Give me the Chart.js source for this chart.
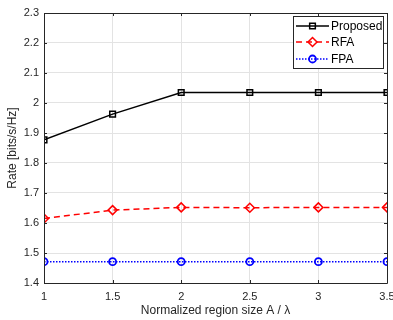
<!DOCTYPE html>
<html>
<head>
<meta charset="utf-8">
<script src="https://cdn.jsdelivr.net/npm/chart.js@4/dist/chart.umd.min.js"></script>
<style>
html,body{margin:0;padding:0;background:#fff;}
#wrap{width:393px;height:320px;}
</style>
</head>
<body>
<div id="wrap"><canvas id="c" width="393" height="320"></canvas></div>
<script>
const xValues = [1, 1.5, 2, 2.5, 3, 3.5];
const proposed = [1.877, 1.963, 2.035, 2.035, 2.035, 2.035];
const rfa = [1.615, 1.643, 1.652, 1.651, 1.652, 1.652];
const fpa = [1.471, 1.471, 1.471, 1.471, 1.471, 1.471];
const seriesNames = ['Proposed', 'RFA', 'FPA'];
const xTicks = [1, 1.5, 2, 2.5, 3, 3.5];
const yTicks = [1.4, 1.5, 1.6, 1.7, 1.8, 1.9, 2, 2.1, 2.2, 2.3];

const FONT = 'Liberation Sans, Arial, Helvetica, sans-serif';
const toPts = arr => arr.map((v, i) => ({x: xValues[i], y: v}));

const frame = {
  id: 'frame',
  afterDatasetsDraw(chart) {
    const ctx = chart.ctx, a = chart.chartArea;
    const xs = chart.scales.x, ys = chart.scales.y;
    ctx.save();
    ctx.strokeStyle = '#262626';
    ctx.lineWidth = 1;
    ctx.beginPath();
    ctx.rect(Math.round(a.left) + 0.5, Math.round(a.top) + 0.5, Math.round(a.right - a.left), Math.round(a.bottom - a.top));
    ctx.stroke();
    const tl = 3;
    ctx.beginPath();
    xTicks.forEach(v => {
      const px = Math.round(xs.getPixelForValue(v)) + 0.5;
      ctx.moveTo(px, a.bottom); ctx.lineTo(px, a.bottom - tl);
      ctx.moveTo(px, a.top); ctx.lineTo(px, a.top + tl);
    });
    yTicks.forEach(v => {
      const py = Math.round(ys.getPixelForValue(v)) + 0.5;
      ctx.moveTo(a.left, py); ctx.lineTo(a.left + tl, py);
      ctx.moveTo(a.right, py); ctx.lineTo(a.right - tl, py);
    });
    ctx.stroke();

    // legend
    const lx = 293, ly = 16, lw = 90, lh = 52;
    ctx.fillStyle = '#fff';
    ctx.fillRect(lx, ly, lw, lh);
    ctx.strokeStyle = '#262626';
    ctx.lineWidth = 1;
    ctx.strokeRect(lx + 0.5, ly + 0.5, lw, lh);
    const rows = [26, 42, 59];
    chart.data.datasets.forEach((ds, i) => {
      const y = rows[i];
      ctx.save();
      ctx.strokeStyle = ds.borderColor;
      ctx.lineWidth = ds.borderWidth;
      ctx.setLineDash(ds.borderDash || []);
      ctx.beginPath();
      ctx.moveTo(296, y); ctx.lineTo(329, y);
      ctx.stroke();
      ctx.setLineDash([]);
      ctx.lineWidth = ds.pointBorderWidth;
      ctx.strokeStyle = ds.pointBorderColor;
      ctx.fillStyle = 'rgba(0,0,0,0)';
      Chart.helpers.drawPoint(ctx, {pointStyle: ds.pointStyle, radius: ds.pointRadius, rotation: 0, borderWidth: ds.pointBorderWidth}, 312.5, y);
      ctx.restore();
      ctx.fillStyle = '#000';
      ctx.font = '12px ' + FONT;
      ctx.textBaseline = 'middle';
      ctx.textAlign = 'left';
      ctx.fillText(ds.label, 331, y + 0.5);
    });
    ctx.restore();
  }
};

new Chart(document.getElementById('c'), {
  type: 'line',
  data: {
    datasets: [
      {label: seriesNames[0], data: toPts(proposed), borderColor: '#000', backgroundColor: 'rgba(0,0,0,0)',
       borderWidth: 1.5, pointStyle: 'rect', pointRadius: 4, pointBorderWidth: 1.5, pointBackgroundColor: 'rgba(0,0,0,0)', pointBorderColor: '#000'},
      {label: seriesNames[1], data: toPts(rfa), borderColor: '#ff0000', backgroundColor: 'rgba(0,0,0,0)',
       borderWidth: 1.5, borderDash: [6, 4], pointStyle: 'rectRot', pointRadius: 4.5, pointBorderWidth: 1.5, pointBackgroundColor: 'rgba(0,0,0,0)', pointBorderColor: '#ff0000'},
      {label: seriesNames[2], data: toPts(fpa), borderColor: '#0000ff', backgroundColor: 'rgba(0,0,0,0)',
       borderWidth: 1.5, borderDash: [1.5, 1.5], pointStyle: 'circle', pointRadius: 3.5, pointBorderWidth: 1.8, pointBackgroundColor: 'rgba(0,0,0,0)', pointBorderColor: '#0000ff'}
    ]
  },
  options: {
    responsive: false,
    animation: false,
    devicePixelRatio: 1,
    layout: {padding: {left: 0, right: 5, top: 13, bottom: 0}},
    plugins: {legend: {display: false}, tooltip: {enabled: false}},
    elements: {line: {tension: 0}},
    scales: {
      x: {
        type: 'linear', min: 1, max: 3.5,
        afterBuildTicks: s => { s.ticks = xTicks.map(v => ({value: v})); },
        afterFit: s => { s.height = 37; s.paddingLeft = 0; s.paddingRight = 0; },
        grid: {color: '#e3e3e3', drawTicks: false, lineWidth: 1},
        border: {display: false},
        ticks: {color: '#262626', font: {family: FONT, size: 11}, padding: 7, maxRotation: 0,
                callback: v => String(v)},
        title: {display: true, text: 'Normalized region size A / λ', color: '#262626',
                font: {family: FONT, size: 12}, padding: {top: 0, bottom: 2}}
      },
      y: {
        type: 'linear', min: 1.4, max: 2.3,
        afterBuildTicks: s => { s.ticks = yTicks.map(v => ({value: v})); },
        afterFit: s => { s.width = 44; s.paddingTop = 0; s.paddingBottom = 0; },
        grid: {color: '#e3e3e3', drawTicks: false, lineWidth: 1},
        border: {display: false},
        ticks: {color: '#262626', font: {family: FONT, size: 11}, padding: 5,
                callback: v => String(Math.round(v * 10) / 10)},
        title: {display: true, text: 'Rate [bits/s/Hz]', color: '#262626',
                font: {family: FONT, size: 12}, padding: {top: 5, bottom: 0}}
      }
    }
  },
  plugins: [frame]
});
</script>
</body>
</html>
